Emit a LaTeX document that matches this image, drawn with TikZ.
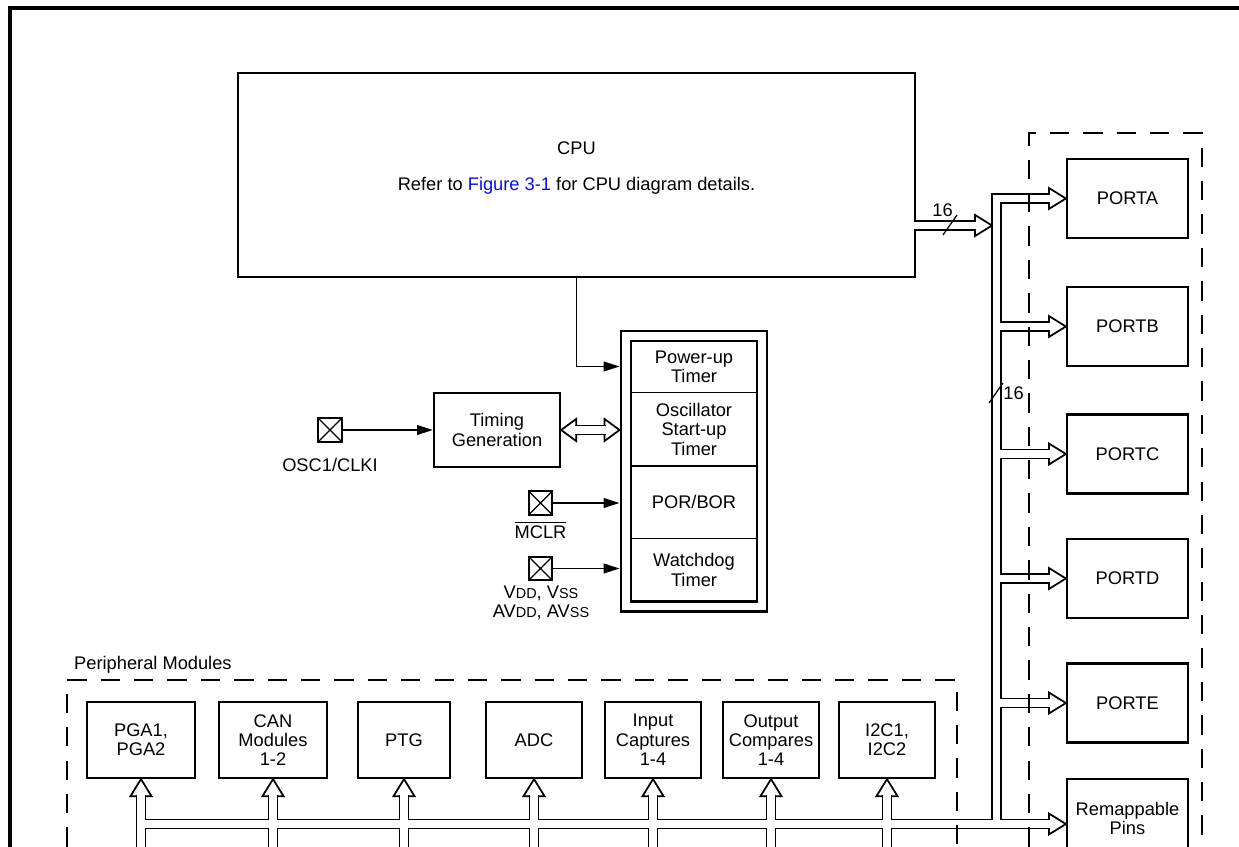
\documentclass[tikz,border=0pt]{standalone}
\usepackage{fontspec}
\setmainfont{Liberation Sans}
\usepackage{xcolor}
\usepackage{tikz}
\definecolor{linkblue}{RGB}{10,10,235}
\newcommand{\lowcap}[1]{{\fontsize{8.2}{9}\selectfont #1}}
\usetikzlibrary{arrows.meta, positioning, fit}

\begin{document}
\begin{tikzpicture}[
  x=0.02cm, y=-0.02cm,
  font=\fontsize{10.4}{11}\selectfont,
  box/.style={draw, line width=1.3pt, align=center, inner sep=0pt},
  port/.style={box, minimum width=2.42cm, minimum height=1.58cm},
  periph/.style={box, minimum width=1.92cm, minimum height=1.52cm},
  cell/.style={align=center, inner sep=0pt, minimum width=2.52cm},
  pin/.style={draw, line width=0.9pt, minimum size=0.47cm, inner sep=0pt,
    path picture={\draw[line width=0.7pt]
      (path picture bounding box.north west) -- (path picture bounding box.south east)
      (path picture bounding box.south west) -- (path picture bounding box.north east);}},
  sig/.style={-{Triangle[length=9pt, width=5.5pt]}, line width=1pt},
  bus/.style={double, double distance=4.1pt, line width=1pt},
  busend/.style={draw, fill=white, line width=1pt, line join=miter},
  group/.style={dash pattern=on 11pt off 8pt, line width=0.9pt}
]

  % Page and clipping
  \useasboundingbox (0,0) rectangle (1239,847);
  \clip (0,0) rectangle (1239,847);
  \draw[line width=1.8pt] (10,880) -- (10,8) -- (1260,8);

  % Column and row positions
  \def\portX{1127.5}
  \def\modY{740}

  % CPU block
  \node[box, minimum width=13.54cm, minimum height=4.08cm] (cpu) at (576.5,175) {};
  \node[align=center] (cputext) at (576.5,168)
    {CPU\\[9pt]Refer to \textcolor{linkblue}{Figure 3-1} for CPU diagram details.};

  % Reset and timer block
  \node[cell, minimum height=1.02cm] (pwrt) at (694,366.5) {Power-up\\Timer};
  \node[cell, minimum height=1.46cm, below=0pt of pwrt] (osct) {Oscillator\\Start-up\\Timer};
  \node[cell, minimum height=1.44cm, below=0pt of osct] (porbor) {POR/BOR};
  \node[cell, minimum height=1.24cm, below=0pt of porbor] (wdt) {Watchdog\\Timer};
  \draw[line width=1.3pt] (pwrt.north west) rectangle (wdt.south east);
  \foreach \c in {pwrt, osct, porbor}
    \draw[line width=0.7pt] (\c.south west) -- (\c.south east);
  \node[draw, line width=1.3pt, fit=(pwrt)(wdt), inner sep=0.2cm] (rst) {};

  % Clock and pins
  \node[box, minimum width=2.52cm, minimum height=1.48cm] (tgen) at (497,430) {Timing\\Generation};
  \node[pin] (osc) at (330,430) {};
  \node (osclbl) at (330,465) {OSC1/CLKI};
  \node[pin] (mclr) at (540.5,503) {};
  \node (mclrlbl) at (540.5,530) {$\overline{\mbox{MCLR}}$};
  \node[pin] (vdd) at (540.5,568.5) {};
  \node[align=center] (vddlbl) at (541,603)
    {V\lowcap{DD}, V\lowcap{SS}\\AV\lowcap{DD}, AV\lowcap{SS}};

  % Ports
  \node[port] (porta) at (\portX,198.5) {PORTA};
  \node[port] (portb) at (\portX,326.5) {PORTB};
  \node[port] (portc) at (\portX,454) {PORTC};
  \node[port] (portd) at (\portX,578.5) {PORTD};
  \node[port] (porte) at (\portX,703) {PORTE};
  \node[port] (rmp) at (\portX,818.5) {Remappable\\Pins};

  % Peripheral modules
  \node (periphlbl) [anchor=base west] at (68,669) {Peripheral Modules};
  \node[periph, minimum width=2.16cm] (pga) at (141,\modY) {PGA1,\\PGA2};
  \node[periph, minimum width=2.16cm] (can) at (273,\modY) {CAN\\Modules\\1-2};
  \node[periph, minimum width=1.84cm] (ptg) at (404,\modY) {PTG};
  \node[periph] (adc) at (534,\modY) {ADC};
  \node[periph] (icap) at (653,\modY) {Input\\Captures\\1-4};
  \node[periph] (ocmp) at (771,\modY) {Output\\Compares\\1-4};
  \node[periph] (iic) at (887,\modY) {I2C1,\\I2C2};

  % Signal arrows
  \draw[sig] (osc) -- (tgen);
  \draw[sig] (cpu.south) |- (pwrt -| rst.west);
  \draw[sig] (mclr) -- (mclr -| rst.west);
  \draw[sig] (vdd) -- (vdd -| rst.west);

  % Bus coordinates
  \coordinate (vbus) at (996.5,824);
  \coordinate (hbus) at (141,824);
  \coordinate (floor) at (0,880);
  \coordinate (cputip) at (992,225.5);
  \coordinate (rmptip) at (hbus -| rmp.west);
  \coordinate (tgtip) at (tgen.east -| rst.west);

  % Hollow bus arrowheads
  \foreach \p in {porta, portb, portc, portd, porte}
    \draw[busend] (\p.west) -- ++(-17,-10.5) -- ++(0,21) -- cycle;
  \draw[busend] (rmptip) -- ++(-17,-10.5) -- ++(0,21) -- cycle;
  \draw[busend] (cputip) -- ++(-17,-10.5) -- ++(0,21) -- cycle;
  \foreach \m in {pga, can, ptg, adc, icap, ocmp, iic}
    \draw[busend] (\m.south) -- ++(-10.5,17) -- ++(21,0) -- cycle;
  \draw[busend] (tgen.east) -- ++(15,-11) -- ++(0,22) -- cycle;
  \draw[busend] (tgtip) -- ++(-15,-11) -- ++(0,22) -- cycle;

  % Buses
  \draw[bus] ([shift={(-2,0)}]cpu.east |- cputip) -- ([shift={(-16,0)}]cputip);
  \draw[bus] ([shift={(14,0)}]tgen.east) -- ([shift={(-14,0)}]tgtip);
  \draw[bus] (vbus) -- (vbus |- porta.west) -- ([shift={(-16,0)}]porta.west)
    \foreach \p in {portb, portc, portd, porte} {
      (vbus |- \p.west) -- ([shift={(-16,0)}]\p.west) }
    (hbus) -- ([shift={(-16,0)}]rmptip)
    \foreach \m in {pga, can, ptg, adc, icap, ocmp, iic} {
      ([shift={(0,16)}]\m.south) -- (\m.south |- floor) };

  % Bus width marks
  \draw[line width=0.7pt] (943,235) -- (957,215);
  \node (cpuwidth) at (942.5,210) {16};
  \draw[line width=0.7pt] (989,403) -- (1003,383);
  \node (buswidth) at (1013.5,393.5) {16};

  % Dashed groups
  \draw[group] (1029,880) -- (1029,133) -- (1202,133) -- (1202,880);
  \draw[group] (67,880) -- (67,680) -- (957,680) -- (957,880);

\end{tikzpicture}
\end{document}
